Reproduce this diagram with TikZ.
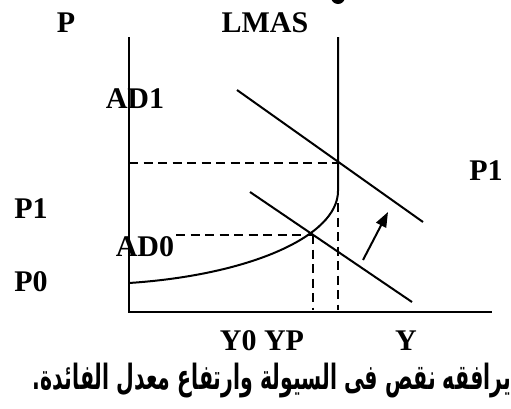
\documentclass[tikz,border=0pt]{standalone}
\usepackage{fontspec}
\setmainfont{Liberation Serif}[BoldFont={Liberation Serif Bold}]
\newfontfamily\arabicfont[Script=Arabic]{DejaVu Sans}
\TeXXeTstate=1
\usetikzlibrary{arrows.meta}
\begin{document}
\begin{tikzpicture}[x=1pt,y=-1pt,
  lbl/.style={font=\fontsize{30}{36}\selectfont\bfseries, inner sep=0pt},
  solidline/.style={line width=2pt},
  guide/.style={line width=2pt, dash pattern=on 9pt off 5.5pt},
]
\useasboundingbox (0,0) rectangle (511,408);
% fragment of cut-off text at top
\fill (338,-3) ellipse [x radius=7, y radius=7];
% axes
\coordinate (ytop) at (129,37);
\coordinate (orig) at (129,312);
\coordinate (xend) at (492,312);
\draw[solidline] (ytop) -- (orig) -- (xend);
% LMAS
\coordinate (ltop) at (338,37);
\coordinate (lbend) at (338,191);
\coordinate (lend) at (129,283);
\draw[solidline] (ltop) -- (lbend) .. controls (338,236) and (250,275) .. (lend);
% AD curves
\coordinate (ad1a) at (237,90);
\coordinate (ad1b) at (423,222);
\coordinate (ad0a) at (250,192);
\coordinate (ad0b) at (412,302);
\draw[solidline] (ad1a) -- (ad1b);
\draw[solidline] (ad0a) -- (ad0b);
% guides
\coordinate (g1a) at (129,163);
\coordinate (g1b) at (338,163);
\coordinate (g2a) at (176,235);
\coordinate (g2b) at (313,235);
\coordinate (v1b) at (313,310);
\coordinate (v2a) at (338,203);
\coordinate (v2b) at (338,310);
\draw[guide] (g1a) -- (g1b);
\draw[guide] (g2a) -- (g2b);
\draw[guide] (g2b) -- (v1b);
\draw[guide] (v2a) -- (v2b);
% arrow
\coordinate (arA) at (363,260);
\coordinate (arB) at (388,212);
\draw[solidline,-{Triangle[length=15pt,width=11pt]}] (arA) -- (arB);
% labels
\node[lbl] (lp) at (66,23) {P};
\node[lbl] (llmas) at (265,23) {LMAS};
\node[lbl] (lad1) at (135,99) {AD1};
\node[lbl] (lp1r) at (486,171) {P1};
\node[lbl] (lp1l) at (31,209) {P1};
\node[lbl] (lad0) at (145,247) {AD0};
\node[lbl] (lp0) at (31,282) {P0};
\node[lbl] (ly0) at (262,341) {Y0 YP};
\node[lbl] (ly) at (406,341) {Y};
\node[inner sep=0pt] (cap) at (272,381) {\scalebox{1}[1.7]{\resizebox{478pt}{!}{\arabicfont\bfseries\beginR يرافقه نقص فى السيولة وارتفاع معدل الفائدة.\endR}}};
\end{tikzpicture}
\end{document}
